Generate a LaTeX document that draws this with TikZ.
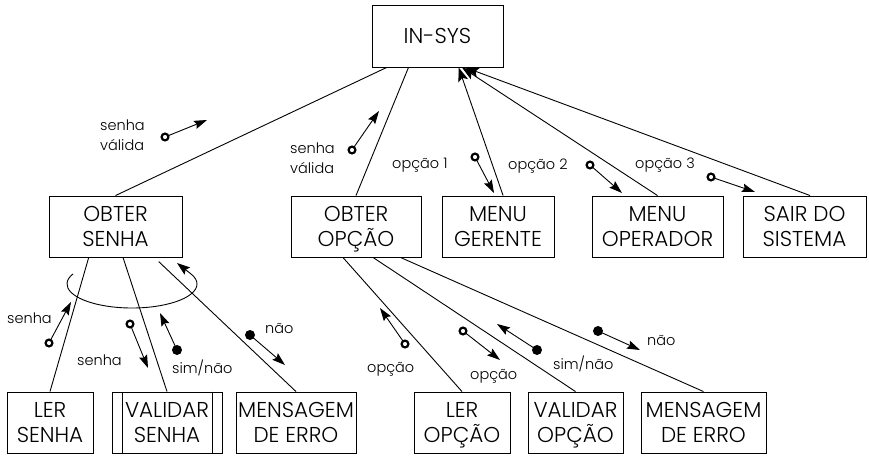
\documentclass[tikz,border=0pt]{standalone}
\usepackage{fontspec}
\setmainfont{Poppins Light}
\usetikzlibrary{arrows.meta,calc}
% data couple: small arrow with an open (data) or filled (control) tail circle
\newcommand\datacouple[2]{%
  \draw[flowarrow] #1 -- #2;
  \draw[ringtail] #1 circle[radius=3.4pt];}
\newcommand\flagcouple[2]{%
  \draw[flowarrow,shorten <=4pt] #1 -- #2;
  \fill #1 circle[radius=5pt];}
\begin{document}
\begin{tikzpicture}[x=1pt,y=-1pt,
  module/.style={draw,line width=0.9pt,inner sep=0pt,align=center,
    font=\fontsize{21.5}{25}\selectfont,text height=40pt,text depth=0pt,
    minimum height=61pt},
  link/.style={line width=0.9pt},
  upto/.style={line width=0.9pt,-{Stealth[length=14pt,width=10pt,inset=3pt]}},
  flowarrow/.style={line width=0.9pt,shorten <=3.5pt,
    -{Stealth[length=13pt,width=8.5pt,inset=2pt]}},
  ringtail/.style={line width=2.2pt},
  iterarrow/.style={line width=0.9pt,-{Stealth[length=13pt,width=9pt,inset=2pt]}},
  tag/.style={font=\fontsize{14.5}{20}\selectfont,inner sep=0pt,anchor=base west,align=left}]
\useasboundingbox (0,0) rectangle (869,455);

% top module
\node[module,minimum width=131pt,minimum height=62pt,text height=15pt] (insys) at (437.5,36) {IN-SYS};

% second level
\node[module,minimum width=133pt] (osenha) at (115.5,226.5) {OBTER\\SENHA};
\node[module,minimum width=130pt] (oopcao) at (356,226.5) {OBTER\\OPÇÃO};
\node[module,minimum width=112pt] (mger) at (498,226.5) {MENU\\GERENTE};
\node[module,minimum width=131pt] (mop) at (657.5,226.5) {MENU\\OPERADOR};
\node[module,minimum width=123pt] (sair) at (804.5,226.5) {SAIR DO\\SISTEMA};

% third level
\node[module,minimum width=86pt] (lsenha) at (50,422.5) {LER\\SENHA};
\node[module,minimum width=110pt] (vsenha) at (167,422.5) {VALIDAR\\SENHA};
\node[module,minimum width=120pt] (merro1) at (296,422.5) {MENSAGEM\\DE ERRO};
\node[module,minimum width=96pt] (lopcao) at (462,422.5) {LER\\OPÇÃO};
\node[module,minimum width=95pt] (vopcao) at (575.5,422.5) {VALIDAR\\OPÇÃO};
\node[module,minimum width=125pt] (merro2) at (703.5,422.5) {MENSAGEM\\DE ERRO};

% predefined-module side bars
\draw[link] ($(vsenha.north west)+(11,0)$) -- ($(vsenha.south west)+(11,0)$);
\draw[link] ($(vsenha.north east)+(-10,0)$) -- ($(vsenha.south east)+(-10,0)$);

% calls from the top module
\draw[link] ($(insys.south west)!0.115!(insys.south east)$) -- (osenha.north);
\draw[link] ($(insys.south west)!0.28!(insys.south east)$) -- (oopcao.north);
\draw[upto] ($(mger.north west)!0.545!(mger.north east)$) -- ($(insys.south west)!0.66!(insys.south east)$);
\draw[upto] (mop.north) -- ($(insys.south west)!0.685!(insys.south east)$);
\draw[upto] ($(sair.north west)!0.545!(sair.north east)$) -- ($(insys.south west)!0.71!(insys.south east)$);

% calls from OBTER SENHA
\draw[link] ($(osenha.south west)!0.30!(osenha.south east)$) -- (lsenha.north);
\draw[link] ($(osenha.south west)!0.556!(osenha.south east)$) -- (vsenha.north);
\draw[link,shorten <=6pt] ($(osenha.south west)!0.79!(osenha.south east)$) -- (merro1.north);

% calls from OBTER OPÇÃO
\draw[link] ($(oopcao.south west)!0.40!(oopcao.south east)$) -- (lopcao.north);
\draw[link] ($(oopcao.south west)!0.63!(oopcao.south east)$) -- (vopcao.north);
\draw[link] ($(oopcao.south west)!0.84!(oopcao.south east)$) -- (merro2.north);

% iteration loop under OBTER SENHA
\draw[iterarrow] (132,284) ++(205:65 and 24) arc[start angle=205,end angle=-25,x radius=65,y radius=24] -- (177,263);

% couples
\datacouple{(165,137)}{(207,120)}
\datacouple{(352,150)}{(379,111)}
\datacouple{(475,157)}{(494,193)}
\datacouple{(590,165)}{(622,193)}
\datacouple{(711,177)}{(755,192)}
\datacouple{(49,343)}{(71,302)}
\datacouple{(130,324)}{(148,368)}
\flagcouple{(177,350)}{(160,313)}
\flagcouple{(250,335)}{(285,365)}
\datacouple{(405,344)}{(380,308)}
\datacouple{(463,331)}{(500,360)}
\flagcouple{(537,350)}{(497,324)}
\flagcouple{(598,331)}{(640,350)}

% couple labels
\node[tag] (t1) at (100,150) {senha\\válida};
\node[tag] (t2) at (290,173) {senha\\válida};
\node[tag] (t3) at (392,168) {opção 1};
\node[tag] (t4) at (508,169) {opção 2};
\node[tag] (t5) at (635,168) {opção 3};
\node[tag] (t6) at (7,323) {senha};
\node[tag] (t7) at (77,365) {senha};
\node[tag] (t8) at (172,373) {sim/não};
\node[tag] (t9) at (265,333) {não};
\node[tag] (t10) at (367,372) {opção};
\node[tag] (t11) at (470,379) {opção};
\node[tag] (t12) at (553,369) {sim/não};
\node[tag] (t13) at (647,345) {não};
\end{tikzpicture}
\end{document}
